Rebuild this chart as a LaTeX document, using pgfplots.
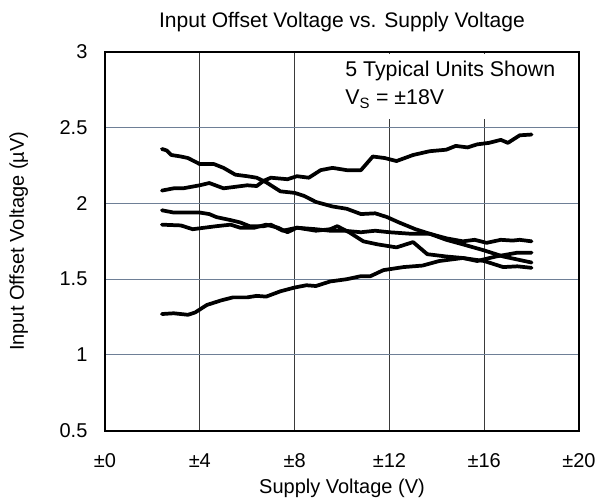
\documentclass[border=0pt]{standalone}
\usepackage{fontspec}
\setmainfont{Liberation Sans}
\usepackage{pgfplots}
\pgfplotsset{compat=1.18}
\definecolor{hgrid}{HTML}{6E7F96}
\definecolor{vgrid}{HTML}{3A3A3A}
\begin{document}
\fontsize{15pt}{18pt}\selectfont
\begin{tikzpicture}[curve/.style={black, line width=2.8pt, line join=round, line cap=round, mark=none}]
\useasboundingbox (-78.75pt,-51pt) rectangle (371.25pt,323pt);
\begin{axis}[
  scale only axis, width=355.5pt, height=284pt,
  at={(0,0)}, anchor=south west,
  xmin=0, xmax=20, ymin=0.5, ymax=3,
  xtick={0,4,8,12,16,20},
  xticklabels={±0,±4,±8,±12,±16,±20},
  ytick={0.5,1,1.5,2,2.5,3},
  yticklabels={0.5,1,1.5,2,2.5,3},
  major tick length=0pt,
  axis line style={line width=1.6pt},
  xmajorgrids, ymajorgrids,
  x grid style={vgrid, line width=0.6pt},
  y grid style={hgrid, line width=0.8pt},
  tick label style={font=\fontsize{15pt}{18pt}\selectfont},
  xticklabel style={yshift=-12pt},
  yticklabel style={xshift=-8pt},
  label style={font=\fontsize{15pt}{18pt}\selectfont},
  xlabel={Supply Voltage (V)},
  xlabel style={at={(axis description cs:0.5,-0.151)}, anchor=center},
  ylabel={Input Offset Voltage (µV)},
  ylabel style={at={(axis description cs:-0.182,0.5)}, anchor=center},
  clip=false,
]
\fill[white] (axis cs:9.9,2.985) rectangle (axis cs:19.93,2.555);
% Curve A
\addplot[curve] coordinates {(2.4,2.36)(2.6,2.35)(2.8,2.32)(3.2,2.31)(3.5,2.30)(4.0,2.26)(4.6,2.26)(5.0,2.235)(5.5,2.19)(6.0,2.18)(6.4,2.17)(6.8,2.14)(7.4,2.08)(8.0,2.07)(8.4,2.05)(8.9,2.01)(9.6,1.98)(10.2,1.965)(10.8,1.93)(11.4,1.935)(11.9,1.91)(12.4,1.875)(13.1,1.83)(13.7,1.80)(14.4,1.76)(15.1,1.73)(16.0,1.69)(16.8,1.65)(17.4,1.63)(18.0,1.61)};
% Curve B
\addplot[curve] coordinates {(2.4,2.085)(2.9,2.10)(3.3,2.10)(4.0,2.12)(4.4,2.135)(5.0,2.10)(5.5,2.11)(6.0,2.12)(6.4,2.115)(6.7,2.15)(7.0,2.17)(7.7,2.16)(8.1,2.18)(8.6,2.17)(9.1,2.22)(9.6,2.235)(10.2,2.22)(10.8,2.22)(11.3,2.31)(11.8,2.30)(12.3,2.28)(13.0,2.32)(13.7,2.345)(14.4,2.355)(14.8,2.38)(15.3,2.37)(15.7,2.39)(16.2,2.40)(16.7,2.42)(17.0,2.40)(17.5,2.45)(18.0,2.455)};
% Curve C
\addplot[curve] coordinates {(2.4,1.955)(2.9,1.94)(4.0,1.94)(4.4,1.93)(4.7,1.91)(5.3,1.89)(5.7,1.875)(6.1,1.85)(6.7,1.85)(7.0,1.86)(7.5,1.82)(8.1,1.84)(8.9,1.82)(9.5,1.83)(9.8,1.85)(10.3,1.81)(10.9,1.75)(11.5,1.73)(12.3,1.71)(13.0,1.745)(13.6,1.665)(14.4,1.65)(15.1,1.64)(16.0,1.62)(16.8,1.58)(17.4,1.585)(18.0,1.575)};
% Curve D
\addplot[curve] coordinates {(2.4,1.86)(3.2,1.855)(3.7,1.83)(4.2,1.84)(4.7,1.85)(5.3,1.86)(5.7,1.84)(6.3,1.84)(6.8,1.86)(7.3,1.84)(7.7,1.81)(8.1,1.84)(8.9,1.83)(9.5,1.82)(10.1,1.82)(10.8,1.81)(11.4,1.82)(12.0,1.81)(12.9,1.80)(13.7,1.80)(14.4,1.77)(15.1,1.75)(15.6,1.76)(16.1,1.74)(16.7,1.76)(17.2,1.755)(17.5,1.76)(18.0,1.75)};
% Curve E
\addplot[curve] coordinates {(2.4,1.27)(2.9,1.275)(3.5,1.265)(3.8,1.28)(4.3,1.33)(4.9,1.36)(5.4,1.38)(6.0,1.38)(6.4,1.39)(6.8,1.385)(7.4,1.42)(8.0,1.445)(8.5,1.46)(8.9,1.455)(9.5,1.485)(10.2,1.50)(10.8,1.52)(11.2,1.52)(11.75,1.56)(12.6,1.58)(13.4,1.59)(14.1,1.62)(15.1,1.64)(15.7,1.62)(16.5,1.65)(17.4,1.675)(18.0,1.675)};
\node[anchor=base west, inner sep=0pt, font=\fontsize{16pt}{19pt}\selectfont] at (axis cs:10.13,2.835) {5 Typical Units Shown};
\node[anchor=base west, inner sep=0pt, font=\fontsize{16pt}{19pt}\selectfont] at (axis cs:10.13,2.653) {V\textsubscript{S} = ±18V};
\node[anchor=base, inner sep=0pt, font=\fontsize{15.8pt}{18pt}\selectfont] at (rel axis cs:0.5,1.064) {Input Offset Voltage vs. Supply Voltage};
\end{axis}
\end{tikzpicture}
\end{document}
